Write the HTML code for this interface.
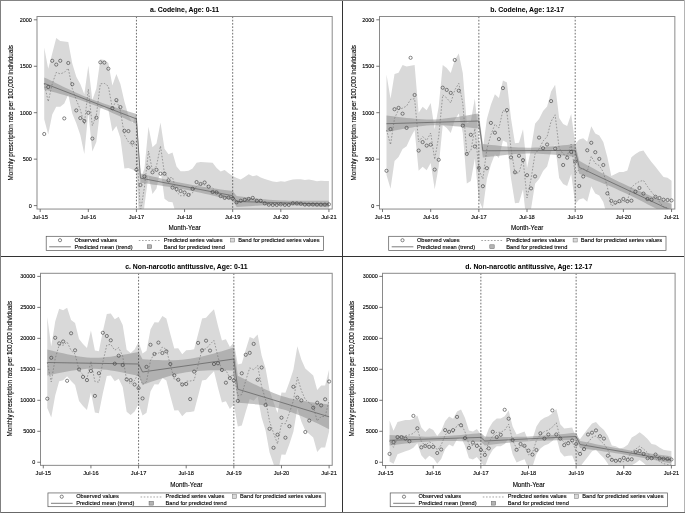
<!DOCTYPE html>
<html lang="en"><head><meta charset="utf-8"><title>Monthly prescription rates</title>
<style>
html,body{margin:0;padding:0;background:#fff}
svg{display:block}
text{font-family:"Liberation Sans",sans-serif;fill:#000;stroke:#000;stroke-width:.11px}
svg{will-change:transform}
.tl{font-size:5.7px}
.tk{font-size:5.45px}
.al{font-size:6.3px}
.ti{font-size:6.9px;font-weight:bold;stroke-width:.04px}
.band{fill:#d9d9d9}
.tband{fill:#898989;fill-opacity:.5}
.pred{fill:none;stroke:#747474;stroke-width:.65;stroke-dasharray:1.6 1.6}
.trend{fill:none;stroke:#6e6e6e;stroke-width:.9;stroke-linejoin:round}
.ref{stroke:#4a4a4a;stroke-width:.8;stroke-dasharray:1.67 1.6}
.obs circle,.lgobs{fill:none;stroke:#3c3c3c;stroke-width:.62}
.frame{fill:none;stroke:#8a8a8a;stroke-width:1}
.tick{stroke:#555;stroke-width:.8}
.lgbox{fill:#fff;stroke:#555;stroke-width:.7}
.lgsw1{fill:#d9d9d9;stroke:#777;stroke-width:.5}
.lgsw2{fill:#b4b4b4;stroke:#666;stroke-width:.5}
</style></head>
<body>
<svg width="685" height="513" viewBox="0 0 685 513">
<rect x="0" y="0" width="685" height="513" fill="#fff"/>
<g id="panel-a">
<clipPath id="clipa"><rect x="37" y="16.5" width="295.2" height="192.55"/></clipPath>
<g clip-path="url(#clipa)">
<polygon class="band" points="44.21,47.5 48.22,68.7 52.23,53.4 56.24,38 60.25,41 64.26,41.4 68.27,42 72.28,63.6 76.29,76.8 80.3,84.1 84.31,94.3 88.32,65.8 92.33,100 96.34,88.5 100.35,59.2 104.36,60 108.37,62.9 112.38,85.5 116.39,73.9 120.4,84 124.41,101.6 128.42,115.6 132.43,123 136.44,115 140.45,179 144.46,168.5 148.47,126.8 152.48,147.3 156.49,143.6 160.5,122.4 164.51,148.7 168.52,154.3 172.53,152.6 176.54,166.4 180.55,171.3 184.56,171.3 188.57,170.8 192.58,168.6 196.59,162.8 200.6,162 204.61,162.3 208.62,162.5 212.63,162.8 216.64,167.9 220.65,171.5 224.66,170 228.67,173.3 232.68,176 236.69,178 240.7,179.6 244.71,177 248.72,174.2 252.73,176.2 256.74,175.2 260.75,177.4 264.76,178.9 268.77,180.3 272.78,181.5 276.79,182.1 280.8,181.2 284.81,181.8 288.82,180.6 292.83,179.6 296.84,179.3 300.85,179.3 304.86,180 308.87,179.6 312.88,180.3 316.89,181.2 320.9,180.8 324.91,181 328.92,181 328.92,228.6 324.91,228.6 320.9,228.4 316.89,228.4 312.88,228.7 308.87,229 304.86,228.6 300.85,228.1 296.84,227.7 292.83,227.4 288.82,228.4 284.81,227.8 280.8,227.8 276.79,227.5 272.78,227.5 268.77,227.7 264.76,227.1 260.75,225.6 256.74,225.8 252.73,222.8 248.72,224.8 244.71,225 240.7,224.4 236.69,227 232.68,216 228.67,216 224.66,216 220.65,216 216.64,216 212.63,216 208.62,216 204.61,216 200.6,216 196.59,216 192.58,216 188.57,216 184.56,216 180.55,216 176.54,216 172.53,202.2 168.52,201.7 164.51,198.7 160.5,169.6 156.49,188.4 152.48,193.9 148.47,175.4 144.46,205.5 140.45,245 136.44,172 132.43,169.4 128.42,168 124.41,168.4 120.4,138 116.39,126.1 112.38,131.5 108.37,109.7 104.36,106.8 100.35,108.4 96.34,142.1 92.33,151.4 88.32,112.6 84.31,154.1 80.3,135.1 76.29,123.2 72.28,113.4 68.27,94.6 64.26,103.4 60.25,106.8 56.24,106.8 52.23,114.6 48.22,134.5 44.21,119.3"/>
<polygon class="tband" points="44.21,77.4 48.22,79.37 52.23,81.33 56.24,83.29 60.25,85.23 64.26,87.15 68.27,89.05 72.28,90.92 76.29,92.75 80.3,94.52 84.31,96.24 88.32,97.87 92.33,99.41 96.34,100.9 100.35,102.34 104.36,103.73 108.37,105.08 112.38,106.39 116.39,107.68 120.4,108.95 124.41,110.21 128.42,111.45 132.43,112.68 136.44,113.9 140.45,173.4 144.46,174.4 148.47,175.4 152.48,176.38 156.49,177.34 160.5,178.3 164.51,179.23 168.52,180.14 172.53,181.03 176.54,181.89 180.55,182.72 184.56,183.51 188.57,184.28 192.58,185.01 196.59,185.71 200.6,186.38 204.61,187.03 208.62,187.65 212.63,188.24 216.64,188.82 220.65,189.39 224.66,189.93 228.67,190.47 232.68,191 236.69,196 240.7,196.51 244.71,197.01 248.72,197.5 252.73,197.98 256.74,198.44 260.75,198.89 264.76,199.31 268.77,199.69 272.78,200.02 276.79,200.29 280.8,200.48 284.81,200.6 288.82,200.69 292.83,200.76 296.84,200.81 300.85,200.84 304.86,200.85 308.87,200.85 312.88,200.84 316.89,200.82 320.9,200.79 324.91,200.75 328.92,200.7 328.92,207.3 324.91,207.04 320.9,206.78 316.89,206.53 312.88,206.29 308.87,206.06 304.86,205.84 300.85,205.64 296.84,205.45 292.83,205.29 288.82,205.14 284.81,205.01 280.8,204.91 276.79,204.88 272.78,204.94 268.77,205.05 264.76,205.22 260.75,205.42 256.74,205.64 252.73,205.89 248.72,206.15 244.71,206.43 240.7,206.71 236.69,207 232.68,200.4 228.67,199.4 224.66,198.4 220.65,197.42 216.64,196.46 212.63,195.5 208.62,194.57 204.61,193.66 200.6,192.77 196.59,191.91 192.58,191.08 188.57,190.29 184.56,189.52 180.55,188.79 176.54,188.09 172.53,187.42 168.52,186.77 164.51,186.15 160.5,185.56 156.49,184.98 152.48,184.41 148.47,183.87 144.46,183.33 140.45,182.8 136.44,123.9 132.43,122.03 128.42,120.18 124.41,118.33 120.4,116.5 116.39,114.68 112.38,112.89 108.37,111.12 104.36,109.38 100.35,107.68 96.34,106.03 92.33,104.43 88.32,102.89 84.31,101.43 80.3,100.06 76.29,98.75 72.28,97.49 68.27,96.27 64.26,95.09 60.25,93.92 56.24,92.77 52.23,91.64 48.22,90.52 44.21,89.4"/>
<polyline class="pred" points="44.21,83.4 48.22,101.6 52.23,84 56.24,72.4 60.25,73.9 64.26,72.4 68.27,68.3 72.28,88.5 76.29,100 80.3,109.6 84.31,124.2 88.32,89.2 92.33,125.7 96.34,115.3 100.35,83.8 104.36,83.4 108.37,86.3 112.38,108.5 116.39,100 120.4,111 124.41,135 128.42,141.8 132.43,146.2 136.44,143.5 140.45,212 144.46,187 148.47,151.1 152.48,170.6 156.49,166 160.5,146 164.51,173.7 168.52,178 172.53,177.4 176.54,192 180.55,195.7 184.56,195.7 188.57,195 192.58,192.7 196.59,186 200.6,184 204.61,185 208.62,186 212.63,188 216.64,192 220.65,195 224.66,196 228.67,197.5 232.68,198 236.69,202.5 240.7,202 244.71,201 248.72,199.5 252.73,199.5 256.74,200.5 260.75,201.5 264.76,203 268.77,204 272.78,204.5 276.79,204.8 280.8,204.5 284.81,204.8 288.82,204.5 292.83,203.5 296.84,203.5 300.85,203.7 304.86,204.3 308.87,204.3 312.88,204.5 316.89,204.8 320.9,204.6 324.91,204.8 328.92,204.8"/>
<polyline class="trend" points="44.21,83.4 136.44,118.9 140.45,178.1 232.68,195.7 236.69,201.5 328.92,204"/>
<line class="ref" x1="136.44" y1="16.5" x2="136.44" y2="209.05"/>
<line class="ref" x1="232.68" y1="16.5" x2="232.68" y2="209.05"/>
</g>
<g class="obs">
<circle cx="44.21" cy="134" r="1.6"/>
<circle cx="48.22" cy="87" r="1.6"/>
<circle cx="52.23" cy="60.8" r="1.6"/>
<circle cx="56.24" cy="64.6" r="1.6"/>
<circle cx="60.25" cy="60.8" r="1.6"/>
<circle cx="64.26" cy="118.4" r="1.6"/>
<circle cx="68.27" cy="63" r="1.6"/>
<circle cx="72.28" cy="84.2" r="1.6"/>
<circle cx="76.29" cy="110.4" r="1.6"/>
<circle cx="80.3" cy="118.1" r="1.6"/>
<circle cx="84.31" cy="121" r="1.6"/>
<circle cx="88.32" cy="112.8" r="1.6"/>
<circle cx="92.33" cy="138.6" r="1.6"/>
<circle cx="96.34" cy="117.7" r="1.6"/>
<circle cx="100.35" cy="62.3" r="1.6"/>
<circle cx="104.36" cy="62.6" r="1.6"/>
<circle cx="108.37" cy="68.7" r="1.6"/>
<circle cx="112.38" cy="108.2" r="1.6"/>
<circle cx="116.39" cy="100.1" r="1.6"/>
<circle cx="120.4" cy="107.1" r="1.6"/>
<circle cx="124.41" cy="130.8" r="1.6"/>
<circle cx="128.42" cy="131.1" r="1.6"/>
<circle cx="132.43" cy="142.5" r="1.6"/>
<circle cx="136.44" cy="169.8" r="1.6"/>
<circle cx="140.45" cy="185" r="1.6"/>
<circle cx="144.46" cy="176.4" r="1.6"/>
<circle cx="148.47" cy="167.7" r="1.6"/>
<circle cx="152.48" cy="172.3" r="1.6"/>
<circle cx="156.49" cy="169.8" r="1.6"/>
<circle cx="160.5" cy="173.7" r="1.6"/>
<circle cx="164.51" cy="173.7" r="1.6"/>
<circle cx="168.52" cy="180.3" r="1.6"/>
<circle cx="172.53" cy="187.6" r="1.6"/>
<circle cx="176.54" cy="189.1" r="1.6"/>
<circle cx="180.55" cy="191" r="1.6"/>
<circle cx="184.56" cy="192.5" r="1.6"/>
<circle cx="188.57" cy="194.9" r="1.6"/>
<circle cx="192.58" cy="188.8" r="1.6"/>
<circle cx="196.59" cy="182.1" r="1.6"/>
<circle cx="200.6" cy="184" r="1.6"/>
<circle cx="204.61" cy="182.5" r="1.6"/>
<circle cx="208.62" cy="186.6" r="1.6"/>
<circle cx="212.63" cy="192" r="1.6"/>
<circle cx="216.64" cy="192.5" r="1.6"/>
<circle cx="220.65" cy="196.1" r="1.6"/>
<circle cx="224.66" cy="197.9" r="1.6"/>
<circle cx="228.67" cy="197.6" r="1.6"/>
<circle cx="232.68" cy="198.5" r="1.6"/>
<circle cx="236.69" cy="202.3" r="1.6"/>
<circle cx="240.7" cy="200.8" r="1.6"/>
<circle cx="244.71" cy="199.8" r="1.6"/>
<circle cx="248.72" cy="198.9" r="1.6"/>
<circle cx="252.73" cy="197.9" r="1.6"/>
<circle cx="256.74" cy="200.8" r="1.6"/>
<circle cx="260.75" cy="200.8" r="1.6"/>
<circle cx="264.76" cy="203.4" r="1.6"/>
<circle cx="268.77" cy="204.7" r="1.6"/>
<circle cx="272.78" cy="204.9" r="1.6"/>
<circle cx="276.79" cy="204.9" r="1.6"/>
<circle cx="280.8" cy="204.4" r="1.6"/>
<circle cx="284.81" cy="204.9" r="1.6"/>
<circle cx="288.82" cy="204.9" r="1.6"/>
<circle cx="292.83" cy="203.3" r="1.6"/>
<circle cx="296.84" cy="203.4" r="1.6"/>
<circle cx="300.85" cy="203.7" r="1.6"/>
<circle cx="304.86" cy="204.6" r="1.6"/>
<circle cx="308.87" cy="204.6" r="1.6"/>
<circle cx="312.88" cy="204.5" r="1.6"/>
<circle cx="316.89" cy="204.6" r="1.6"/>
<circle cx="320.9" cy="204.6" r="1.6"/>
<circle cx="324.91" cy="204.6" r="1.6"/>
<circle cx="328.92" cy="204.3" r="1.6"/>
</g>
<rect class="frame" x="37" y="16.5" width="295.2" height="192.55"/>
<line class="tick" x1="33.8" y1="205.6" x2="37" y2="205.6"/>
<text class="tk" text-anchor="end" x="31.8" y="207.55">0</text>
<line class="tick" x1="33.8" y1="159.15" x2="37" y2="159.15"/>
<text class="tk" text-anchor="end" x="31.8" y="161.1">500</text>
<line class="tick" x1="33.8" y1="112.7" x2="37" y2="112.7"/>
<text class="tk" text-anchor="end" x="31.8" y="114.65">1000</text>
<line class="tick" x1="33.8" y1="66.25" x2="37" y2="66.25"/>
<text class="tk" text-anchor="end" x="31.8" y="68.2">1500</text>
<line class="tick" x1="33.8" y1="19.8" x2="37" y2="19.8"/>
<text class="tk" text-anchor="end" x="31.8" y="21.75">2000</text>
<line class="tick" x1="40.2" y1="209.05" x2="40.2" y2="212.05"/>
<text class="tl" text-anchor="middle" x="40.2" y="218.75">Jul-15</text>
<line class="tick" x1="88.32" y1="209.05" x2="88.32" y2="212.05"/>
<text class="tl" text-anchor="middle" x="88.32" y="218.75">Jul-16</text>
<line class="tick" x1="136.44" y1="209.05" x2="136.44" y2="212.05"/>
<text class="tl" text-anchor="middle" x="136.44" y="218.75">Jul-17</text>
<line class="tick" x1="184.56" y1="209.05" x2="184.56" y2="212.05"/>
<text class="tl" text-anchor="middle" x="184.56" y="218.75">Jul-18</text>
<line class="tick" x1="232.68" y1="209.05" x2="232.68" y2="212.05"/>
<text class="tl" text-anchor="middle" x="232.68" y="218.75">Jul-19</text>
<line class="tick" x1="280.8" y1="209.05" x2="280.8" y2="212.05"/>
<text class="tl" text-anchor="middle" x="280.8" y="218.75">Jul-20</text>
<line class="tick" x1="328.92" y1="209.05" x2="328.92" y2="212.05"/>
<text class="tl" text-anchor="middle" x="328.92" y="218.75">Jul-21</text>
<text class="al" text-anchor="middle" x="184.6" y="230.3">Month-Year</text>
<text class="al" text-anchor="middle" transform="translate(13,112.8) rotate(-90)">Monthly prescription rate per 100,000 individuals</text>
<text class="ti" text-anchor="middle" x="184.6" y="11.9">a. Codeine, Age: 0-11</text>
<g transform="translate(46.2,236.3)">
<rect class="lgbox" x="0" y="0" width="277.3" height="14.3"/>
<circle class="lgobs" cx="13.8" cy="3.9" r="1.6"/>
<text class="tl" x="28.2" y="5.7">Observed values</text>
<line class="pred" x1="92.6" y1="4.2" x2="114" y2="4.2"/>
<text class="tl" x="117.6" y="5.7">Predicted series values</text>
<rect class="lgsw1" x="184.4" y="1.9" width="4.1" height="3.8"/>
<text class="tl" x="192.1" y="5.7">Band for predicted series values</text>
<line class="trend" x1="3" y1="10.5" x2="24.7" y2="10.5"/>
<text class="tl" x="28.2" y="12.4">Predicted mean (trend)</text>
<rect class="lgsw2" x="101.1" y="8.5" width="4.4" height="3.8"/>
<text class="tl" x="117.6" y="12.4">Band for predicted trend</text>
</g>
</g>
<g id="panel-b">
<clipPath id="clipb"><rect x="379.5" y="16.5" width="295.35" height="192.55"/></clipPath>
<g clip-path="url(#clipb)">
<polygon class="band" points="386.51,74.6 390.53,98.7 394.54,73.9 398.56,72.7 402.57,65.1 406.59,66.5 410.6,65.8 414.62,65.1 418.63,112.8 422.65,106.7 426.66,110.3 430.68,103 434.69,129.3 438.7,106.5 442.72,65 446.73,68 450.75,73 454.76,60 458.78,53.4 462.79,73 466.81,123.5 470.82,121 474.84,98.5 478.85,140 482.87,148.9 486.88,119 490.89,104.8 494.91,94.3 498.92,98 502.94,80.4 506.95,82.6 510.97,118.3 514.98,143.3 519,142.7 523.01,129.2 527.03,167.9 531.04,148.9 535.05,123.8 539.07,119 543.08,111 547.1,106.6 551.11,91.4 555.13,84.8 559.14,118 563.16,124.1 567.17,126 571.19,114 575.2,143.9 579.22,139.5 583.23,138.3 587.24,141.7 591.26,126.3 595.27,133.4 599.29,135.6 603.3,142 607.32,157 611.33,176 615.35,174 619.36,172 623.38,172 627.39,170.5 631.41,157.3 635.42,153.9 639.43,151.4 643.45,150.4 647.46,156.5 651.48,162 655.49,166.8 659.51,171.9 663.52,177 667.54,177.8 671.55,180.7 671.55,240.7 667.54,237.8 663.52,237 659.51,231.9 655.49,226.8 651.48,222 647.46,216.5 643.45,210.4 639.43,211.4 635.42,213.9 631.41,217.3 627.39,230.5 623.38,232 619.36,232 615.35,234 611.33,236 607.32,217 603.3,202 599.29,195.6 595.27,193.4 591.26,186.3 587.24,201.7 583.23,198.3 579.22,199.5 575.2,203.9 571.19,174 567.17,186 563.16,184.1 559.14,178 555.13,144.8 551.11,151.4 547.1,166.6 543.08,171 539.07,179 535.05,183.8 531.04,208.9 527.03,227.9 523.01,189.2 519,202.7 514.98,203.3 510.97,178.3 506.95,142.6 502.94,140.4 498.92,158 494.91,154.3 490.89,164.8 486.88,179 482.87,208.9 478.85,200 474.84,158.5 470.82,181 466.81,183.5 462.79,133 458.78,113.4 454.76,120 450.75,133 446.73,128 442.72,125 438.7,166.5 434.69,189.3 430.68,163 426.66,170.3 422.65,166.7 418.63,170.8 414.62,130 410.6,137.4 406.59,146.2 402.57,149.1 398.56,157 394.54,161 390.53,188.7 386.51,175"/>
<polygon class="tband" points="386.51,115.5 390.53,116 394.54,116.5 398.56,116.98 402.57,117.45 406.59,117.9 410.6,118.32 414.62,118.7 418.63,119.04 422.65,119.3 426.66,119.46 430.68,119.49 434.69,119.38 438.7,119.13 442.72,118.78 446.73,118.34 450.75,117.83 454.76,117.27 458.78,116.67 462.79,116.05 466.81,115.4 470.82,114.75 474.84,114.08 478.85,113.4 482.87,144 486.88,144.46 490.89,144.91 494.91,145.36 498.92,145.78 502.94,146.19 506.95,146.56 510.97,146.91 514.98,147.21 519,147.45 523.01,147.62 527.03,147.7 531.04,147.68 535.05,147.58 539.07,147.4 543.08,147.16 547.1,146.86 551.11,146.52 555.13,146.15 559.14,145.75 563.16,145.33 567.17,144.9 571.19,144.46 575.2,144 579.22,160.8 583.23,163.01 587.24,165.2 591.26,167.37 595.27,169.53 599.29,171.66 603.3,173.77 607.32,175.85 611.33,177.9 615.35,179.91 619.36,181.88 623.38,183.8 627.39,185.69 631.41,187.52 635.42,189.32 639.43,191.08 643.45,192.79 647.46,194.48 651.48,196.14 655.49,197.77 659.51,199.38 663.52,200.97 667.54,202.54 671.55,204.1 671.55,217.1 667.54,214.89 663.52,212.7 659.51,210.53 655.49,208.37 651.48,206.24 647.46,204.13 643.45,202.05 639.43,200 635.42,197.99 631.41,196.02 627.39,194.1 623.38,192.21 619.36,190.38 615.35,188.58 611.33,186.82 607.32,185.11 603.3,183.42 599.29,181.76 595.27,180.13 591.26,178.52 587.24,176.93 583.23,175.36 579.22,173.8 575.2,156.8 571.19,156.38 567.17,155.97 563.16,155.57 559.14,155.19 555.13,154.82 551.11,154.49 547.1,154.18 543.08,153.92 539.07,153.71 535.05,153.57 531.04,153.5 527.03,153.52 523.01,153.64 519,153.84 514.98,154.11 510.97,154.45 506.95,154.83 502.94,155.24 498.92,155.68 494.91,156.14 490.89,156.62 486.88,157.1 482.87,157.6 478.85,128.6 474.84,128.16 470.82,127.72 466.81,127.3 462.79,126.89 458.78,126.5 454.76,126.14 450.75,125.82 446.73,125.54 442.72,125.33 438.7,125.22 434.69,125.21 430.68,125.33 426.66,125.59 422.65,125.99 418.63,126.48 414.62,127.05 410.6,127.67 406.59,128.33 402.57,129.01 398.56,129.72 394.54,130.43 390.53,131.16 386.51,131.9"/>
<polyline class="pred" points="386.51,130 390.53,144.7 394.54,118.4 398.56,109.6 402.57,108.2 406.59,106 410.6,99.4 414.62,98.7 418.63,141.8 422.65,136.7 426.66,140.3 430.68,133 434.69,159.3 438.7,136.5 442.72,95 446.73,98 450.75,103 454.76,90 458.78,83.4 462.79,103 466.81,153.5 470.82,151 474.84,128.5 478.85,170 482.87,178.9 486.88,149 490.89,134.8 494.91,124.3 498.92,128 502.94,110.4 506.95,112.6 510.97,148.3 514.98,173.3 519,172.7 523.01,159.2 527.03,197.9 531.04,178.9 535.05,153.8 539.07,149 543.08,141 547.1,136.6 551.11,121.4 555.13,114.8 559.14,148 563.16,154.1 567.17,156 571.19,144 575.2,173.9 579.22,169.5 583.23,168.3 587.24,171.7 591.26,156.3 595.27,163.4 599.29,165.6 603.3,172 607.32,187 611.33,206 615.35,204 619.36,202 623.38,202 627.39,200.5 631.41,187.3 635.42,183.9 639.43,181.4 643.45,180.4 647.46,186.5 651.48,192 655.49,196.8 659.51,201.9 663.52,207 667.54,207.8 671.55,210.7"/>
<polyline class="trend" points="386.51,123.7 478.85,121 482.87,150.8 575.2,150.4 579.22,167.3 671.55,210.6"/>
<line class="ref" x1="478.85" y1="16.5" x2="478.85" y2="209.05"/>
<line class="ref" x1="575.2" y1="16.5" x2="575.2" y2="209.05"/>
</g>
<g class="obs">
<circle cx="386.51" cy="170.8" r="1.6"/>
<circle cx="390.53" cy="129.1" r="1.6"/>
<circle cx="394.54" cy="109.2" r="1.6"/>
<circle cx="398.56" cy="107.9" r="1.6"/>
<circle cx="402.57" cy="113.7" r="1.6"/>
<circle cx="406.59" cy="127.9" r="1.6"/>
<circle cx="410.6" cy="57.8" r="1.6"/>
<circle cx="414.62" cy="95" r="1.6"/>
<circle cx="418.63" cy="150.6" r="1.6"/>
<circle cx="422.65" cy="142.1" r="1.6"/>
<circle cx="426.66" cy="145.6" r="1.6"/>
<circle cx="430.68" cy="144.7" r="1.6"/>
<circle cx="434.69" cy="169.6" r="1.6"/>
<circle cx="438.7" cy="159.8" r="1.6"/>
<circle cx="442.72" cy="87.7" r="1.6"/>
<circle cx="446.73" cy="89.9" r="1.6"/>
<circle cx="450.75" cy="92.9" r="1.6"/>
<circle cx="454.76" cy="60" r="1.6"/>
<circle cx="458.78" cy="90.7" r="1.6"/>
<circle cx="462.79" cy="125.7" r="1.6"/>
<circle cx="466.81" cy="153.9" r="1.6"/>
<circle cx="470.82" cy="134.8" r="1.6"/>
<circle cx="474.84" cy="146.5" r="1.6"/>
<circle cx="478.85" cy="167.9" r="1.6"/>
<circle cx="482.87" cy="186.2" r="1.6"/>
<circle cx="486.88" cy="168.2" r="1.6"/>
<circle cx="490.89" cy="122.9" r="1.6"/>
<circle cx="494.91" cy="132.7" r="1.6"/>
<circle cx="498.92" cy="139.1" r="1.6"/>
<circle cx="502.94" cy="88.1" r="1.6"/>
<circle cx="506.95" cy="110.1" r="1.6"/>
<circle cx="510.97" cy="157.4" r="1.6"/>
<circle cx="514.98" cy="172.3" r="1.6"/>
<circle cx="519" cy="155.8" r="1.6"/>
<circle cx="523.01" cy="160.1" r="1.6"/>
<circle cx="527.03" cy="175.2" r="1.6"/>
<circle cx="531.04" cy="188.4" r="1.6"/>
<circle cx="535.05" cy="176.4" r="1.6"/>
<circle cx="539.07" cy="137.6" r="1.6"/>
<circle cx="543.08" cy="148.2" r="1.6"/>
<circle cx="547.1" cy="144.5" r="1.6"/>
<circle cx="551.11" cy="101.1" r="1.6"/>
<circle cx="555.13" cy="148.6" r="1.6"/>
<circle cx="559.14" cy="156.2" r="1.6"/>
<circle cx="563.16" cy="165" r="1.6"/>
<circle cx="567.17" cy="157.7" r="1.6"/>
<circle cx="571.19" cy="151.9" r="1.6"/>
<circle cx="575.2" cy="161.4" r="1.6"/>
<circle cx="579.22" cy="186" r="1.6"/>
<circle cx="583.23" cy="176.5" r="1.6"/>
<circle cx="587.24" cy="150.3" r="1.6"/>
<circle cx="591.26" cy="142.8" r="1.6"/>
<circle cx="595.27" cy="152.2" r="1.6"/>
<circle cx="599.29" cy="158.9" r="1.6"/>
<circle cx="603.3" cy="165" r="1.6"/>
<circle cx="607.32" cy="193.4" r="1.6"/>
<circle cx="611.33" cy="200.9" r="1.6"/>
<circle cx="615.35" cy="202.6" r="1.6"/>
<circle cx="619.36" cy="201.2" r="1.6"/>
<circle cx="623.38" cy="199" r="1.6"/>
<circle cx="627.39" cy="201.2" r="1.6"/>
<circle cx="631.41" cy="200.7" r="1.6"/>
<circle cx="635.42" cy="191.7" r="1.6"/>
<circle cx="639.43" cy="188" r="1.6"/>
<circle cx="643.45" cy="193.6" r="1.6"/>
<circle cx="647.46" cy="199" r="1.6"/>
<circle cx="651.48" cy="199.7" r="1.6"/>
<circle cx="655.49" cy="196.8" r="1.6"/>
<circle cx="659.51" cy="198" r="1.6"/>
<circle cx="663.52" cy="199.7" r="1.6"/>
<circle cx="667.54" cy="200" r="1.6"/>
<circle cx="671.55" cy="200.4" r="1.6"/>
</g>
<rect class="frame" x="379.5" y="16.5" width="295.35" height="192.55"/>
<line class="tick" x1="376.3" y1="205.6" x2="379.5" y2="205.6"/>
<text class="tk" text-anchor="end" x="374.3" y="207.55">0</text>
<line class="tick" x1="376.3" y1="159.15" x2="379.5" y2="159.15"/>
<text class="tk" text-anchor="end" x="374.3" y="161.1">500</text>
<line class="tick" x1="376.3" y1="112.7" x2="379.5" y2="112.7"/>
<text class="tk" text-anchor="end" x="374.3" y="114.65">1000</text>
<line class="tick" x1="376.3" y1="66.25" x2="379.5" y2="66.25"/>
<text class="tk" text-anchor="end" x="374.3" y="68.2">1500</text>
<line class="tick" x1="376.3" y1="19.8" x2="379.5" y2="19.8"/>
<text class="tk" text-anchor="end" x="374.3" y="21.75">2000</text>
<line class="tick" x1="382.5" y1="209.05" x2="382.5" y2="212.05"/>
<text class="tl" text-anchor="middle" x="382.5" y="218.75">Jul-15</text>
<line class="tick" x1="430.68" y1="209.05" x2="430.68" y2="212.05"/>
<text class="tl" text-anchor="middle" x="430.68" y="218.75">Jul-16</text>
<line class="tick" x1="478.85" y1="209.05" x2="478.85" y2="212.05"/>
<text class="tl" text-anchor="middle" x="478.85" y="218.75">Jul-17</text>
<line class="tick" x1="527.03" y1="209.05" x2="527.03" y2="212.05"/>
<text class="tl" text-anchor="middle" x="527.03" y="218.75">Jul-18</text>
<line class="tick" x1="575.2" y1="209.05" x2="575.2" y2="212.05"/>
<text class="tl" text-anchor="middle" x="575.2" y="218.75">Jul-19</text>
<line class="tick" x1="623.38" y1="209.05" x2="623.38" y2="212.05"/>
<text class="tl" text-anchor="middle" x="623.38" y="218.75">Jul-20</text>
<line class="tick" x1="671.55" y1="209.05" x2="671.55" y2="212.05"/>
<text class="tl" text-anchor="middle" x="671.55" y="218.75">Jul-21</text>
<text class="al" text-anchor="middle" x="527.17" y="230.3">Month-Year</text>
<text class="al" text-anchor="middle" transform="translate(355.5,112.8) rotate(-90)">Monthly prescription rate per 100,000 individuals</text>
<text class="ti" text-anchor="middle" x="527.17" y="11.9">b. Codeine, Age: 12-17</text>
<g transform="translate(388.7,236.3)">
<rect class="lgbox" x="0" y="0" width="277.3" height="14.3"/>
<circle class="lgobs" cx="13.8" cy="3.9" r="1.6"/>
<text class="tl" x="28.2" y="5.7">Observed values</text>
<line class="pred" x1="92.6" y1="4.2" x2="114" y2="4.2"/>
<text class="tl" x="117.6" y="5.7">Predicted series values</text>
<rect class="lgsw1" x="184.4" y="1.9" width="4.1" height="3.8"/>
<text class="tl" x="192.1" y="5.7">Band for predicted series values</text>
<line class="trend" x1="3" y1="10.5" x2="24.7" y2="10.5"/>
<text class="tl" x="28.2" y="12.4">Predicted mean (trend)</text>
<rect class="lgsw2" x="101.1" y="8.5" width="4.4" height="3.8"/>
<text class="tl" x="117.6" y="12.4">Band for predicted trend</text>
</g>
</g>
<g id="panel-c">
<clipPath id="clipc"><rect x="40.5" y="273.3" width="291.7" height="192.05"/></clipPath>
<g clip-path="url(#clipc)">
<polygon class="band" points="47.27,317 51.24,346.4 55.21,321.5 59.18,308.7 63.15,310.3 67.12,307.8 71.09,319.9 75.06,323.1 79.03,339 83,343.9 86.96,347.9 90.93,330.4 94.9,350.5 98.87,351.2 102.84,331.3 106.81,314 110.78,313.4 114.75,319.2 118.72,316.7 122.69,325 126.66,349.7 130.63,353 134.6,349.4 138.57,341.9 142.54,353.6 146.51,350.7 150.48,329.5 154.45,322.2 158.42,322.5 162.38,316 166.35,318.4 170.32,333.9 174.29,348.5 178.26,348.2 182.23,354.3 186.2,350.2 190.17,350 194.14,349.2 198.11,333.9 202.08,318.5 206.05,317.8 210.02,313.3 213.99,309.3 217.96,325.8 221.93,340.4 225.9,339.2 229.87,346.9 233.84,342.4 237.81,364.6 241.77,363.6 245.74,349.7 249.71,336.9 253.68,338.7 257.65,334.6 261.62,355.5 265.59,368.6 269.56,390.5 273.53,402 277.5,412.9 281.47,392.5 285.44,392.7 289.41,382 293.38,369.7 297.35,346.2 301.32,359.4 305.29,368.6 309.26,371.9 313.23,375.4 317.2,389.9 321.17,385.5 325.13,385.5 329.1,369.4 329.1,431.4 325.13,447.5 321.17,447.5 317.2,451.9 313.23,437.4 309.26,433.9 305.29,430.6 301.32,421.4 297.35,408.2 293.38,431.7 289.41,444 285.44,454.7 281.47,454.5 277.5,474.9 273.53,464 269.56,452.5 265.59,430.6 261.62,417.5 257.65,396.6 253.68,400.7 249.71,398.9 245.74,411.7 241.77,425.6 237.81,426.6 233.84,404.4 229.87,408.9 225.9,401.2 221.93,402.4 217.96,387.8 213.99,371.3 210.02,375.3 206.05,379.8 202.08,380.5 198.11,395.9 194.14,411.2 190.17,412 186.2,412.2 182.23,416.3 178.26,410.2 174.29,410.5 170.32,395.9 166.35,380.4 162.38,378 158.42,384.5 154.45,384.2 150.48,391.5 146.51,412.7 142.54,415.6 138.57,403.9 134.6,411.4 130.63,415 126.66,411.7 122.69,387 118.72,378.7 114.75,381.2 110.78,375.4 106.81,376 102.84,393.3 98.87,413.2 94.9,412.5 90.93,392.4 86.96,409.9 83,405.9 79.03,401 75.06,385.1 71.09,381.1 67.12,376.2 63.15,380.3 59.18,381.3 55.21,395.5 51.24,417.4 47.27,408"/>
<polygon class="tband" points="47.27,349.5 51.24,350.49 55.21,351.45 59.18,352.4 63.15,353.31 67.12,354.19 71.09,355.02 75.06,355.78 79.03,356.46 83,357.02 86.96,357.44 90.93,357.69 94.9,357.76 98.87,357.67 102.84,357.44 106.81,357.09 110.78,356.64 114.75,356.11 118.72,355.51 122.69,354.87 126.66,354.19 130.63,353.48 134.6,352.75 138.57,352 142.54,359.2 146.51,359.45 150.48,359.68 154.45,359.88 158.42,360.05 162.38,360.17 166.35,360.24 170.32,360.24 174.29,360.16 178.26,359.99 182.23,359.69 186.2,359.26 190.17,358.7 194.14,358.04 198.11,357.27 202.08,356.41 206.05,355.47 210.02,354.46 213.99,353.4 217.96,352.29 221.93,351.13 225.9,349.95 229.87,348.74 233.84,347.5 237.81,375.7 241.77,377.79 245.74,379.86 249.71,381.9 253.68,383.91 257.65,385.87 261.62,387.78 265.59,389.62 269.56,391.37 273.53,393.01 277.5,394.52 281.47,395.88 285.44,397.08 289.41,398.16 293.38,399.11 297.35,399.95 301.32,400.7 305.29,401.37 309.26,401.98 313.23,402.53 317.2,403.04 321.17,403.52 325.13,403.97 329.1,404.4 329.1,429.2 325.13,427.23 321.17,425.28 317.2,423.36 313.23,421.47 309.26,419.62 305.29,417.83 301.32,416.1 297.35,414.45 293.38,412.89 289.41,411.44 285.44,410.12 281.47,408.92 277.5,407.88 273.53,406.99 269.56,406.23 265.59,405.58 261.62,405.02 257.65,404.53 253.68,404.09 249.71,403.7 245.74,403.34 241.77,403.01 237.81,402.7 233.84,370.5 229.87,370.39 225.9,370.31 221.93,370.26 217.96,370.23 213.99,370.25 210.02,370.32 206.05,370.44 202.08,370.63 198.11,370.91 194.14,371.27 190.17,371.73 186.2,372.3 182.23,373.01 178.26,373.84 174.29,374.79 170.32,375.85 166.35,376.98 162.38,378.18 158.42,379.43 154.45,380.73 150.48,382.06 146.51,383.42 142.54,384.8 138.57,376 134.6,375.12 130.63,374.26 126.66,373.42 122.69,372.61 118.72,371.83 114.75,371.11 110.78,370.45 106.81,369.86 102.84,369.38 98.87,369.02 94.9,368.8 90.93,368.74 86.96,368.86 83,369.15 79.03,369.59 75.06,370.13 71.09,370.76 67.12,371.46 63.15,372.21 59.18,372.99 55.21,373.81 51.24,374.64 47.27,375.5"/>
<polyline class="pred" points="47.27,362.5 51.24,381.9 55.21,358.5 59.18,345 63.15,345.3 67.12,342 71.09,350.5 75.06,354.1 79.03,370 83,374.9 86.96,378.9 90.93,361.4 94.9,381.5 98.87,382.2 102.84,362.3 106.81,345 110.78,344.4 114.75,350.2 118.72,347.7 122.69,356 126.66,380.7 130.63,384 134.6,380.4 138.57,372.9 142.54,384.6 146.51,381.7 150.48,360.5 154.45,353.2 158.42,353.5 162.38,347 166.35,349.4 170.32,364.9 174.29,379.5 178.26,379.2 182.23,385.3 186.2,381.2 190.17,381 194.14,380.2 198.11,364.9 202.08,349.5 206.05,348.8 210.02,344.3 213.99,340.3 217.96,356.8 221.93,371.4 225.9,370.2 229.87,377.9 233.84,373.4 237.81,395.6 241.77,394.6 245.74,380.7 249.71,367.9 253.68,369.7 257.65,365.6 261.62,386.5 265.59,399.6 269.56,421.5 273.53,433 277.5,443.9 281.47,423.5 285.44,423.7 289.41,413 293.38,400.7 297.35,377.2 301.32,390.4 305.29,399.6 309.26,402.9 313.23,406.4 317.2,420.9 321.17,416.5 325.13,416.5 329.1,400.4"/>
<polyline class="trend" points="47.27,362.5 138.57,364 142.54,372 233.84,359 237.81,389.2 329.1,416.8"/>
<line class="ref" x1="138.57" y1="273.3" x2="138.57" y2="465.35"/>
<line class="ref" x1="233.84" y1="273.3" x2="233.84" y2="465.35"/>
</g>
<g class="obs">
<circle cx="47.27" cy="398.7" r="1.6"/>
<circle cx="51.24" cy="357.8" r="1.6"/>
<circle cx="55.21" cy="337.8" r="1.6"/>
<circle cx="59.18" cy="343.4" r="1.6"/>
<circle cx="63.15" cy="341.5" r="1.6"/>
<circle cx="67.12" cy="380.8" r="1.6"/>
<circle cx="71.09" cy="333.3" r="1.6"/>
<circle cx="75.06" cy="350.3" r="1.6"/>
<circle cx="79.03" cy="369.4" r="1.6"/>
<circle cx="83" cy="376.9" r="1.6"/>
<circle cx="86.96" cy="380.1" r="1.6"/>
<circle cx="90.93" cy="371" r="1.6"/>
<circle cx="94.9" cy="395.9" r="1.6"/>
<circle cx="98.87" cy="373.2" r="1.6"/>
<circle cx="102.84" cy="332.8" r="1.6"/>
<circle cx="106.81" cy="336" r="1.6"/>
<circle cx="110.78" cy="340.3" r="1.6"/>
<circle cx="114.75" cy="363.7" r="1.6"/>
<circle cx="118.72" cy="355.7" r="1.6"/>
<circle cx="122.69" cy="365" r="1.6"/>
<circle cx="126.66" cy="379.4" r="1.6"/>
<circle cx="130.63" cy="380.1" r="1.6"/>
<circle cx="134.6" cy="384.5" r="1.6"/>
<circle cx="138.57" cy="388.1" r="1.6"/>
<circle cx="142.54" cy="398.4" r="1.6"/>
<circle cx="146.51" cy="366.9" r="1.6"/>
<circle cx="150.48" cy="344.8" r="1.6"/>
<circle cx="154.45" cy="354" r="1.6"/>
<circle cx="158.42" cy="342.6" r="1.6"/>
<circle cx="162.38" cy="353" r="1.6"/>
<circle cx="166.35" cy="351.3" r="1.6"/>
<circle cx="170.32" cy="364" r="1.6"/>
<circle cx="174.29" cy="375.3" r="1.6"/>
<circle cx="178.26" cy="379.8" r="1.6"/>
<circle cx="182.23" cy="384.5" r="1.6"/>
<circle cx="186.2" cy="384" r="1.6"/>
<circle cx="190.17" cy="399.1" r="1.6"/>
<circle cx="194.14" cy="371.6" r="1.6"/>
<circle cx="198.11" cy="342.9" r="1.6"/>
<circle cx="202.08" cy="350.3" r="1.6"/>
<circle cx="206.05" cy="340.7" r="1.6"/>
<circle cx="210.02" cy="350.6" r="1.6"/>
<circle cx="213.99" cy="364" r="1.6"/>
<circle cx="217.96" cy="363.3" r="1.6"/>
<circle cx="221.93" cy="369.9" r="1.6"/>
<circle cx="225.9" cy="382.7" r="1.6"/>
<circle cx="229.87" cy="378" r="1.6"/>
<circle cx="233.84" cy="380.5" r="1.6"/>
<circle cx="237.81" cy="400.9" r="1.6"/>
<circle cx="241.77" cy="373.3" r="1.6"/>
<circle cx="245.74" cy="354.8" r="1.6"/>
<circle cx="249.71" cy="352.9" r="1.6"/>
<circle cx="253.68" cy="343.9" r="1.6"/>
<circle cx="257.65" cy="379.7" r="1.6"/>
<circle cx="261.62" cy="367.5" r="1.6"/>
<circle cx="265.59" cy="405" r="1.6"/>
<circle cx="269.56" cy="428.8" r="1.6"/>
<circle cx="273.53" cy="447.8" r="1.6"/>
<circle cx="277.5" cy="434.7" r="1.6"/>
<circle cx="281.47" cy="417.7" r="1.6"/>
<circle cx="285.44" cy="437.7" r="1.6"/>
<circle cx="289.41" cy="426.2" r="1.6"/>
<circle cx="293.38" cy="386.8" r="1.6"/>
<circle cx="297.35" cy="397.6" r="1.6"/>
<circle cx="301.32" cy="400.4" r="1.6"/>
<circle cx="305.29" cy="432" r="1.6"/>
<circle cx="309.26" cy="420.6" r="1.6"/>
<circle cx="313.23" cy="407.7" r="1.6"/>
<circle cx="317.2" cy="402.7" r="1.6"/>
<circle cx="321.17" cy="405.4" r="1.6"/>
<circle cx="325.13" cy="399.3" r="1.6"/>
<circle cx="329.1" cy="381.5" r="1.6"/>
</g>
<rect class="frame" x="40.5" y="273.3" width="291.7" height="192.05"/>
<line class="tick" x1="37.3" y1="462.25" x2="40.5" y2="462.25"/>
<text class="tk" text-anchor="end" x="35.3" y="464.2">0</text>
<line class="tick" x1="37.3" y1="431.3" x2="40.5" y2="431.3"/>
<text class="tk" text-anchor="end" x="35.3" y="433.25">5000</text>
<line class="tick" x1="37.3" y1="400.3" x2="40.5" y2="400.3"/>
<text class="tk" text-anchor="end" x="35.3" y="402.25">10000</text>
<line class="tick" x1="37.3" y1="369.3" x2="40.5" y2="369.3"/>
<text class="tk" text-anchor="end" x="35.3" y="371.25">15000</text>
<line class="tick" x1="37.3" y1="338.35" x2="40.5" y2="338.35"/>
<text class="tk" text-anchor="end" x="35.3" y="340.3">20000</text>
<line class="tick" x1="37.3" y1="307.4" x2="40.5" y2="307.4"/>
<text class="tk" text-anchor="end" x="35.3" y="309.35">25000</text>
<line class="tick" x1="37.3" y1="276.4" x2="40.5" y2="276.4"/>
<text class="tk" text-anchor="end" x="35.3" y="278.35">30000</text>
<line class="tick" x1="43.3" y1="465.35" x2="43.3" y2="468.35"/>
<text class="tl" text-anchor="middle" x="43.3" y="475.05">Jul-15</text>
<line class="tick" x1="90.93" y1="465.35" x2="90.93" y2="468.35"/>
<text class="tl" text-anchor="middle" x="90.93" y="475.05">Jul-16</text>
<line class="tick" x1="138.57" y1="465.35" x2="138.57" y2="468.35"/>
<text class="tl" text-anchor="middle" x="138.57" y="475.05">Jul-17</text>
<line class="tick" x1="186.2" y1="465.35" x2="186.2" y2="468.35"/>
<text class="tl" text-anchor="middle" x="186.2" y="475.05">Jul-18</text>
<line class="tick" x1="233.84" y1="465.35" x2="233.84" y2="468.35"/>
<text class="tl" text-anchor="middle" x="233.84" y="475.05">Jul-19</text>
<line class="tick" x1="281.47" y1="465.35" x2="281.47" y2="468.35"/>
<text class="tl" text-anchor="middle" x="281.47" y="475.05">Jul-20</text>
<line class="tick" x1="329.1" y1="465.35" x2="329.1" y2="468.35"/>
<text class="tl" text-anchor="middle" x="329.1" y="475.05">Jul-21</text>
<text class="al" text-anchor="middle" x="186.35" y="486.8">Month-Year</text>
<text class="al" text-anchor="middle" transform="translate(11.5,368.7) rotate(-90)">Monthly prescription rate per 100,000 individuals</text>
<text class="ti" text-anchor="middle" x="186.35" y="268.8">c. Non-narcotic antitussive, Age: 0-11</text>
<g transform="translate(47.95,492.8)">
<rect class="lgbox" x="0" y="0.15" width="277.3" height="13.75"/>
<circle class="lgobs" cx="13.8" cy="3.9" r="1.6"/>
<text class="tl" x="28.2" y="5.7">Observed values</text>
<line class="pred" x1="92.6" y1="4.2" x2="114" y2="4.2"/>
<text class="tl" x="117.6" y="5.7">Predicted series values</text>
<rect class="lgsw1" x="184.4" y="1.9" width="4.1" height="3.8"/>
<text class="tl" x="192.1" y="5.7">Band for predicted series values</text>
<line class="trend" x1="3" y1="10.5" x2="24.7" y2="10.5"/>
<text class="tl" x="28.2" y="12.4">Predicted mean (trend)</text>
<rect class="lgsw2" x="101.1" y="8.5" width="4.4" height="3.8"/>
<text class="tl" x="117.6" y="12.4">Band for predicted trend</text>
</g>
</g>
<g id="panel-d">
<clipPath id="clipd"><rect x="382.5" y="273.3" width="292.6" height="192.2"/></clipPath>
<g clip-path="url(#clipd)">
<polygon class="band" points="389.57,420.5 393.54,430.8 397.51,422 401.48,421 405.45,420.1 409.42,419.9 413.39,419.1 417.36,415.5 421.33,427.5 425.3,431.9 429.26,427.9 433.23,430.1 437.2,436 441.17,431.1 445.14,421.3 449.11,416.6 453.08,418.8 457.05,411.5 461.02,409.6 464.99,418 468.96,430.5 472.93,431.6 476.9,429.1 480.87,434.5 484.84,438.9 488.81,428.6 492.78,422 496.75,418.4 500.72,418.4 504.69,416.2 508.65,410.4 512.62,426.4 516.59,434.6 520.56,433 524.53,431.5 528.5,441 532.47,438.9 536.44,426.4 540.41,420.6 544.38,417.7 548.35,416.2 552.32,413.3 556.29,408.9 560.26,424.2 564.23,428.6 568.2,427.9 572.17,427.6 576.14,437.4 580.11,438.9 584.08,433.7 588.04,428.6 592.01,423.5 595.98,422 599.95,426.4 603.92,430.1 607.89,435.9 611.86,445.4 615.83,446.2 619.8,448.4 623.77,447.6 627.74,444.7 631.71,437.4 635.68,435.2 639.65,432.3 643.62,435.2 647.59,438.9 651.56,444 655.53,444.7 659.5,447.6 663.47,449.8 667.43,450.6 671.4,451.1 671.4,478.9 667.43,478.4 663.47,477.6 659.5,475.4 655.53,472.5 651.56,471.8 647.59,466.7 643.62,463 639.65,460.1 635.68,463 631.71,465.2 627.74,472.5 623.77,475.4 619.8,476.2 615.83,474 611.86,473.2 607.89,463.7 603.92,457.9 599.95,454.2 595.98,449.8 592.01,451.3 588.04,456.4 584.08,461.5 580.11,466.7 576.14,465.2 572.17,455.4 568.2,455.7 564.23,456.4 560.26,452 556.29,436.7 552.32,441.1 548.35,444 544.38,445.5 540.41,448.4 536.44,454.2 532.47,466.7 528.5,468.8 524.53,459.3 520.56,460.8 516.59,462.4 512.62,454.2 508.65,438.2 504.69,444 500.72,446.2 496.75,446.2 492.78,449.8 488.81,456.4 484.84,466.7 480.87,462.3 476.9,456.9 472.93,459.4 468.96,458.3 464.99,445.8 461.02,437.4 457.05,439.3 453.08,446.6 449.11,444.4 445.14,449.1 441.17,458.9 437.2,463.8 433.23,457.9 429.26,455.7 425.3,459.7 421.33,455.3 417.36,443.3 413.39,447.7 409.42,449.9 405.45,451.3 401.48,452.8 397.51,454.2 393.54,463.8 389.57,461.5"/>
<polygon class="tband" points="389.57,435.1 393.54,435.33 397.51,435.56 401.48,435.78 405.45,435.98 409.42,436.17 413.39,436.34 417.36,436.48 421.33,436.59 425.3,436.65 429.26,436.66 433.23,436.6 437.2,436.48 441.17,436.31 445.14,436.09 449.11,435.84 453.08,435.55 457.05,435.24 461.02,434.9 464.99,434.55 468.96,434.18 472.93,433.79 476.9,433.4 480.87,433 484.84,436.6 488.81,436.68 492.78,436.75 496.75,436.81 500.72,436.86 504.69,436.89 508.65,436.91 512.62,436.9 516.59,436.87 520.56,436.8 524.53,436.69 528.5,436.54 532.47,436.35 536.44,436.12 540.41,435.87 544.38,435.59 548.35,435.28 552.32,434.96 556.29,434.61 560.26,434.25 564.23,433.88 568.2,433.5 572.17,433.1 576.14,432.7 580.11,440.9 584.08,441.72 588.04,442.53 592.01,443.34 595.98,444.13 599.95,444.91 603.92,445.68 607.89,446.44 611.86,447.18 615.83,447.91 619.8,448.62 623.77,449.31 627.74,449.98 631.71,450.64 635.68,451.28 639.65,451.9 643.62,452.51 647.59,453.1 651.56,453.67 655.53,454.24 659.5,454.79 663.47,455.34 667.43,455.87 671.4,456.4 671.4,463.6 667.43,462.78 663.47,461.97 659.5,461.16 655.53,460.37 651.56,459.59 647.59,458.82 643.62,458.06 639.65,457.32 635.68,456.59 631.71,455.88 627.74,455.19 623.77,454.52 619.8,453.86 615.83,453.22 611.86,452.6 607.89,451.99 603.92,451.4 599.95,450.83 595.98,450.26 592.01,449.71 588.04,449.16 584.08,448.63 580.11,448.1 576.14,440.3 572.17,440.29 568.2,440.29 564.23,440.29 560.26,440.31 556.29,440.34 552.32,440.39 548.35,440.46 544.38,440.54 540.41,440.65 536.44,440.79 532.47,440.96 528.5,441.15 524.53,441.39 520.56,441.68 516.59,442 512.62,442.36 508.65,442.74 504.69,443.15 500.72,443.58 496.75,444.02 492.78,444.47 488.81,444.93 484.84,445.4 480.87,441.8 476.9,441.65 472.93,441.51 468.96,441.38 464.99,441.26 461.02,441.16 457.05,441.07 453.08,441.01 449.11,440.98 445.14,440.98 441.17,441.01 437.2,441.09 433.23,441.22 429.26,441.42 425.3,441.68 421.33,441.99 417.36,442.35 413.39,442.75 409.42,443.17 405.45,443.61 401.48,444.07 397.51,444.53 393.54,445.01 389.57,445.5"/>
<polyline class="pred" points="389.57,441 393.54,447.3 397.51,438.1 401.48,436.9 405.45,435.7 409.42,434.9 413.39,433.4 417.36,429.4 421.33,441.4 425.3,445.8 429.26,441.8 433.23,444 437.2,449.9 441.17,445 445.14,435.2 449.11,430.5 453.08,432.7 457.05,425.4 461.02,423.5 464.99,431.9 468.96,444.4 472.93,445.5 476.9,443 480.87,448.4 484.84,452.8 488.81,442.5 492.78,435.9 496.75,432.3 500.72,432.3 504.69,430.1 508.65,424.3 512.62,440.3 516.59,448.5 520.56,446.9 524.53,445.4 528.5,454.9 532.47,452.8 536.44,440.3 540.41,434.5 544.38,431.6 548.35,430.1 552.32,427.2 556.29,422.8 560.26,438.1 564.23,442.5 568.2,441.8 572.17,441.5 576.14,451.3 580.11,452.8 584.08,447.6 588.04,442.5 592.01,437.4 595.98,435.9 599.95,440.3 603.92,444 607.89,449.8 611.86,459.3 615.83,460.1 619.8,462.3 623.77,461.5 627.74,458.6 631.71,451.3 635.68,449.1 639.65,446.2 643.62,449.1 647.59,452.8 651.56,457.9 655.53,458.6 659.5,461.5 663.47,463.7 667.43,464.5 671.4,465"/>
<polyline class="trend" points="389.57,440.3 480.87,437.4 484.84,441 576.14,436.5 580.11,444.5 671.4,460"/>
<line class="ref" x1="480.87" y1="273.3" x2="480.87" y2="465.5"/>
<line class="ref" x1="576.14" y1="273.3" x2="576.14" y2="465.5"/>
</g>
<g class="obs">
<circle cx="389.57" cy="453.9" r="1.6"/>
<circle cx="393.54" cy="442.1" r="1.6"/>
<circle cx="397.51" cy="437.1" r="1.6"/>
<circle cx="401.48" cy="437.1" r="1.6"/>
<circle cx="405.45" cy="438.6" r="1.6"/>
<circle cx="409.42" cy="441.2" r="1.6"/>
<circle cx="413.39" cy="415.9" r="1.6"/>
<circle cx="417.36" cy="428.3" r="1.6"/>
<circle cx="421.33" cy="447.3" r="1.6"/>
<circle cx="425.3" cy="445.9" r="1.6"/>
<circle cx="429.26" cy="446.9" r="1.6"/>
<circle cx="433.23" cy="446.9" r="1.6"/>
<circle cx="437.2" cy="453" r="1.6"/>
<circle cx="441.17" cy="449.5" r="1.6"/>
<circle cx="445.14" cy="430.1" r="1.6"/>
<circle cx="449.11" cy="431.8" r="1.6"/>
<circle cx="453.08" cy="430.1" r="1.6"/>
<circle cx="457.05" cy="416.9" r="1.6"/>
<circle cx="461.02" cy="425.3" r="1.6"/>
<circle cx="464.99" cy="438.1" r="1.6"/>
<circle cx="468.96" cy="447.9" r="1.6"/>
<circle cx="472.93" cy="442.6" r="1.6"/>
<circle cx="476.9" cy="445.9" r="1.6"/>
<circle cx="480.87" cy="450" r="1.6"/>
<circle cx="484.84" cy="454.9" r="1.6"/>
<circle cx="488.81" cy="448.4" r="1.6"/>
<circle cx="492.78" cy="431.8" r="1.6"/>
<circle cx="496.75" cy="437.1" r="1.6"/>
<circle cx="500.72" cy="434.8" r="1.6"/>
<circle cx="504.69" cy="409.8" r="1.6"/>
<circle cx="508.65" cy="418.7" r="1.6"/>
<circle cx="512.62" cy="440" r="1.6"/>
<circle cx="516.59" cy="449.8" r="1.6"/>
<circle cx="520.56" cy="444" r="1.6"/>
<circle cx="524.53" cy="445.9" r="1.6"/>
<circle cx="528.5" cy="450.6" r="1.6"/>
<circle cx="532.47" cy="454.6" r="1.6"/>
<circle cx="536.44" cy="450" r="1.6"/>
<circle cx="540.41" cy="433.3" r="1.6"/>
<circle cx="544.38" cy="438.6" r="1.6"/>
<circle cx="548.35" cy="434.5" r="1.6"/>
<circle cx="552.32" cy="410.4" r="1.6"/>
<circle cx="556.29" cy="434.5" r="1.6"/>
<circle cx="560.26" cy="438.6" r="1.6"/>
<circle cx="564.23" cy="445.1" r="1.6"/>
<circle cx="568.2" cy="443.2" r="1.6"/>
<circle cx="572.17" cy="440.5" r="1.6"/>
<circle cx="576.14" cy="444" r="1.6"/>
<circle cx="580.11" cy="453.9" r="1.6"/>
<circle cx="584.08" cy="449.1" r="1.6"/>
<circle cx="588.04" cy="434.5" r="1.6"/>
<circle cx="592.01" cy="432.7" r="1.6"/>
<circle cx="595.98" cy="430.4" r="1.6"/>
<circle cx="599.95" cy="436.2" r="1.6"/>
<circle cx="603.92" cy="438.6" r="1.6"/>
<circle cx="607.89" cy="455.7" r="1.6"/>
<circle cx="611.86" cy="459.8" r="1.6"/>
<circle cx="615.83" cy="460.8" r="1.6"/>
<circle cx="619.8" cy="460" r="1.6"/>
<circle cx="623.77" cy="457.9" r="1.6"/>
<circle cx="627.74" cy="459.8" r="1.6"/>
<circle cx="631.71" cy="459.3" r="1.6"/>
<circle cx="635.68" cy="452" r="1.6"/>
<circle cx="639.65" cy="451" r="1.6"/>
<circle cx="643.62" cy="453.9" r="1.6"/>
<circle cx="647.59" cy="458.2" r="1.6"/>
<circle cx="651.56" cy="458.2" r="1.6"/>
<circle cx="655.53" cy="454.6" r="1.6"/>
<circle cx="659.5" cy="458.2" r="1.6"/>
<circle cx="663.47" cy="458.7" r="1.6"/>
<circle cx="667.43" cy="459" r="1.6"/>
<circle cx="671.4" cy="459.5" r="1.6"/>
</g>
<rect class="frame" x="382.5" y="273.3" width="292.6" height="192.2"/>
<line class="tick" x1="379.3" y1="462.25" x2="382.5" y2="462.25"/>
<text class="tk" text-anchor="end" x="377.8" y="464.2">0</text>
<line class="tick" x1="379.3" y1="431.3" x2="382.5" y2="431.3"/>
<text class="tk" text-anchor="end" x="377.8" y="433.25">5000</text>
<line class="tick" x1="379.3" y1="400.3" x2="382.5" y2="400.3"/>
<text class="tk" text-anchor="end" x="377.8" y="402.25">10000</text>
<line class="tick" x1="379.3" y1="369.3" x2="382.5" y2="369.3"/>
<text class="tk" text-anchor="end" x="377.8" y="371.25">15000</text>
<line class="tick" x1="379.3" y1="338.35" x2="382.5" y2="338.35"/>
<text class="tk" text-anchor="end" x="377.8" y="340.3">20000</text>
<line class="tick" x1="379.3" y1="307.4" x2="382.5" y2="307.4"/>
<text class="tk" text-anchor="end" x="377.8" y="309.35">25000</text>
<line class="tick" x1="379.3" y1="276.4" x2="382.5" y2="276.4"/>
<text class="tk" text-anchor="end" x="377.8" y="278.35">30000</text>
<line class="tick" x1="385.6" y1="465.5" x2="385.6" y2="468.5"/>
<text class="tl" text-anchor="middle" x="385.6" y="475.2">Jul-15</text>
<line class="tick" x1="433.23" y1="465.5" x2="433.23" y2="468.5"/>
<text class="tl" text-anchor="middle" x="433.23" y="475.2">Jul-16</text>
<line class="tick" x1="480.87" y1="465.5" x2="480.87" y2="468.5"/>
<text class="tl" text-anchor="middle" x="480.87" y="475.2">Jul-17</text>
<line class="tick" x1="528.5" y1="465.5" x2="528.5" y2="468.5"/>
<text class="tl" text-anchor="middle" x="528.5" y="475.2">Jul-18</text>
<line class="tick" x1="576.14" y1="465.5" x2="576.14" y2="468.5"/>
<text class="tl" text-anchor="middle" x="576.14" y="475.2">Jul-19</text>
<line class="tick" x1="623.77" y1="465.5" x2="623.77" y2="468.5"/>
<text class="tl" text-anchor="middle" x="623.77" y="475.2">Jul-20</text>
<line class="tick" x1="671.4" y1="465.5" x2="671.4" y2="468.5"/>
<text class="tl" text-anchor="middle" x="671.4" y="475.2">Jul-21</text>
<text class="al" text-anchor="middle" x="528.8" y="486.8">Month-Year</text>
<text class="al" text-anchor="middle" transform="translate(354,368.7) rotate(-90)">Monthly prescription rate per 100,000 individuals</text>
<text class="ti" text-anchor="middle" x="528.8" y="268.8">d. Non-narcotic antitussive, Age: 12-17</text>
<g transform="translate(390.2,492.8)">
<rect class="lgbox" x="0" y="0.15" width="277.3" height="13.75"/>
<circle class="lgobs" cx="13.8" cy="3.9" r="1.6"/>
<text class="tl" x="28.2" y="5.7">Observed values</text>
<line class="pred" x1="92.6" y1="4.2" x2="114" y2="4.2"/>
<text class="tl" x="117.6" y="5.7">Predicted series values</text>
<rect class="lgsw1" x="184.4" y="1.9" width="4.1" height="3.8"/>
<text class="tl" x="192.1" y="5.7">Band for predicted series values</text>
<line class="trend" x1="3" y1="10.5" x2="24.7" y2="10.5"/>
<text class="tl" x="28.2" y="12.4">Predicted mean (trend)</text>
<rect class="lgsw2" x="101.1" y="8.5" width="4.4" height="3.8"/>
<text class="tl" x="117.6" y="12.4">Band for predicted trend</text>
</g>
</g>
<g shape-rendering="crispEdges">
<rect x="342" y="0" width="1" height="513" fill="#333"/>
<rect x="0" y="256" width="685" height="1" fill="#333"/>
<rect x="0" y="0" width="685" height="1" fill="#848484"/>
<rect x="0" y="512" width="685" height="1" fill="#686868"/>
<rect x="0" y="0" width="1" height="513" fill="#808080"/>
<rect x="684" y="0" width="1" height="512" fill="#b4b4b4"/>
</g>
</svg>
</body></html>
